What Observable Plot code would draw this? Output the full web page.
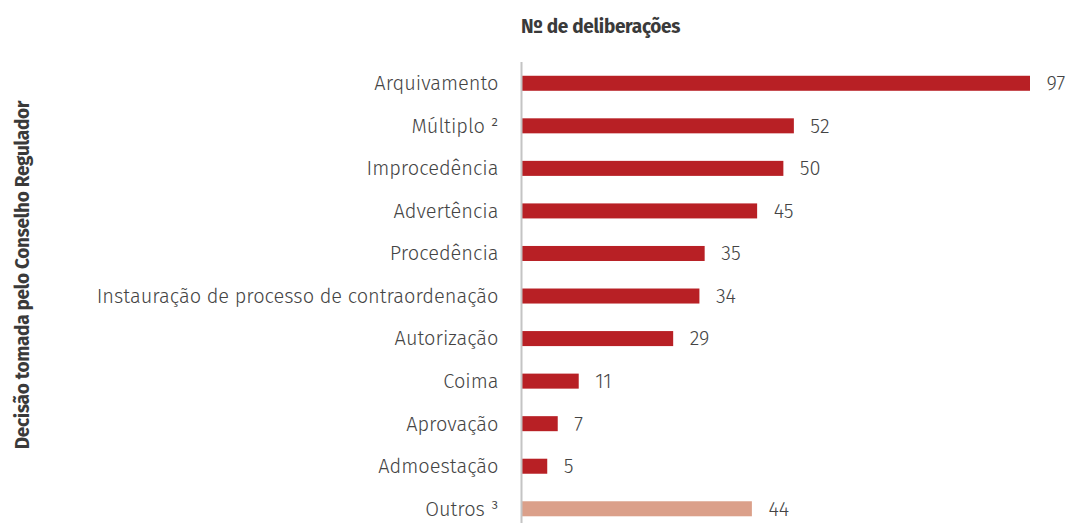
<!DOCTYPE html>
<html>
<head>
<meta charset="utf-8">
<script src="https://cdn.jsdelivr.net/npm/d3@7"></script>
<script src="https://cdn.jsdelivr.net/npm/@observablehq/plot@0.6"></script>
<style>
  html, body { margin: 0; padding: 0; background: #fff; overflow: hidden; }
  #wrap { position: relative; width: 1067px; height: 523px; font-family: "Fira Sans", "Roboto", "Liberation Sans", sans-serif; }
  #chart { position: absolute; left: 0; top: 0; }
  #xtitle { position: absolute; left: 521px; top: 15px; font-size: 19px; font-weight: 700; color: #3a3a3a; letter-spacing: -0.3px; }
  #ytitle { position: absolute; left: 22px; top: 275px; transform: translate(-50%, -50%) rotate(-90deg); white-space: nowrap; font-size: 19px; font-weight: 700; color: #3a3a3a; letter-spacing: -0.3px; }
</style>
</head>
<body>
<div id="wrap">
  <div id="chart"></div>
  <div id="xtitle">Nº de deliberações</div>
  <div id="ytitle">Decisão tomada pelo Conselho Regulador</div>
</div>
<script>
const categories = [
  "Arquivamento",
  "Múltiplo ²",
  "Improcedência",
  "Advertência",
  "Procedência",
  "Instauração de processo de contraordenação",
  "Autorização",
  "Coima",
  "Aprovação",
  "Admoestação",
  "Outros ³"
];
const values = [97, 52, 50, 45, 35, 34, 29, 11, 7, 5, 44];
const groups = ["main","main","main","main","main","main","main","main","main","main","other"];

const data = categories.map((c, i) => ({category: c, value: values[i], group: groups[i]}));

const font = '"Fira Sans", "Roboto", "Liberation Sans", sans-serif';

const chart = Plot.plot({
  width: 1067,
  height: 523,
  marginLeft: 521,
  marginRight: 37,
  marginTop: 62,
  marginBottom: 0,
  style: {fontFamily: font, background: "transparent", overflow: "visible"},
  x: {domain: [0, 97], axis: null},
  y: {domain: categories, range: [62, 530.05], paddingInner: 0.647, paddingOuter: 0.3235, round: false, label: null},
  color: {domain: ["main", "other"], range: ["#B82025", "#DBA08A"]},
  marks: [
    Plot.barX(data, {y: "category", x: "value", fill: "group"}),
    Plot.ruleX([0], {stroke: "#c4c4c4", strokeWidth: 2}),
    Plot.text(data, {y: "category", x: "value", text: d => String(d.value), textAnchor: "start", dx: 16, fontSize: 20, fontWeight: 300, fill: "#444"}),
    Plot.axisY({tickSize: 0, tickPadding: 23, fontSize: 20, fontWeight: 300, color: "#444", label: null})
  ]
});
document.getElementById("chart").appendChild(chart);
</script>
</body>
</html>
